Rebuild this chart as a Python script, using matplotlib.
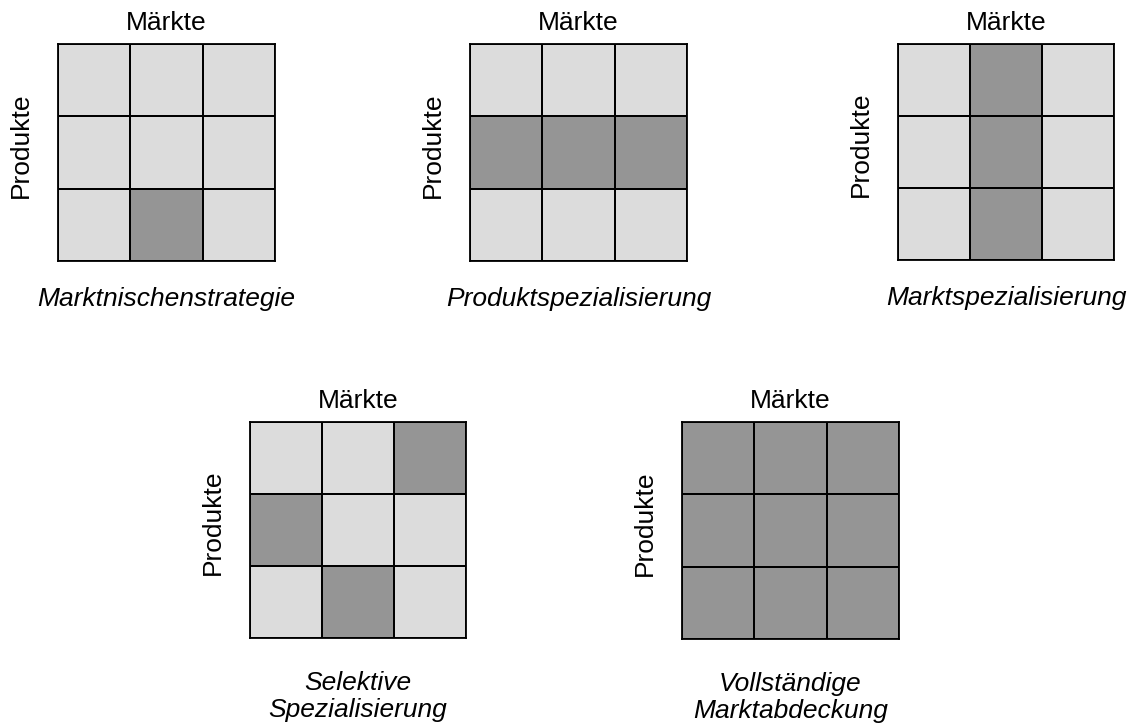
import matplotlib
matplotlib.use('Agg')
import matplotlib.pyplot as plt
import numpy as np

plt.rcParams['font.family'] = ['Liberation Sans', 'DejaVu Sans']

# rows top to bottom (Produkte), columns left to right (Märkte); 1 = dark cell
titles = ['Marktnischenstrategie', 'Produktspezialisierung', 'Marktspezialisierung',
          'Selektive\nSpezialisierung', 'Vollständige\nMarktabdeckung']
grids = [
    [[0, 0, 0], [0, 0, 0], [0, 1, 0]],
    [[0, 0, 0], [1, 1, 1], [0, 0, 0]],
    [[0, 1, 0], [0, 1, 0], [0, 1, 0]],
    [[0, 0, 1], [1, 0, 0], [0, 1, 0]],
    [[1, 1, 1], [1, 1, 1], [1, 1, 1]],
]
x_label = 'Märkte'
y_label = 'Produkte'

light = '#dcdcdc'
dark = '#959595'

W, H = 1136, 724
fig = plt.figure(figsize=(W / 100, H / 100), dpi=100)

# pixel boxes (left, top, size)
boxes = [(58, 44, 217), (470, 44, 217), (898, 44, 216), (250, 422, 216), (682, 422, 217)]

cmap = matplotlib.colors.ListedColormap([light, dark])
for (x0, y0, s), grid, title in zip(boxes, grids, titles):
    ax = fig.add_axes([x0 / W, 1 - (y0 + s) / H, s / W, s / H])
    g = np.array(grid)[::-1]
    ax.pcolormesh(g, cmap=cmap, vmin=0, vmax=1, edgecolors='black', linewidth=1.3)
    ax.set_xlim(0, 3)
    ax.set_ylim(0, 3)
    ax.set_xticks([])
    ax.set_yticks([])
    for sp in ax.spines.values():
        sp.set_linewidth(1.3)
    ax.set_title(x_label, fontsize=19, pad=10)
    ax.set_ylabel(y_label, fontsize=19, labelpad=18)
    ax.yaxis.label.set_y(0.535)
    two_lines = '\n' in title
    ax.set_xlabel(title, fontsize=19, style='italic', labelpad=24 if two_lines else 19,
                  linespacing=1.15)

fig.savefig('out.png', dpi=100)
